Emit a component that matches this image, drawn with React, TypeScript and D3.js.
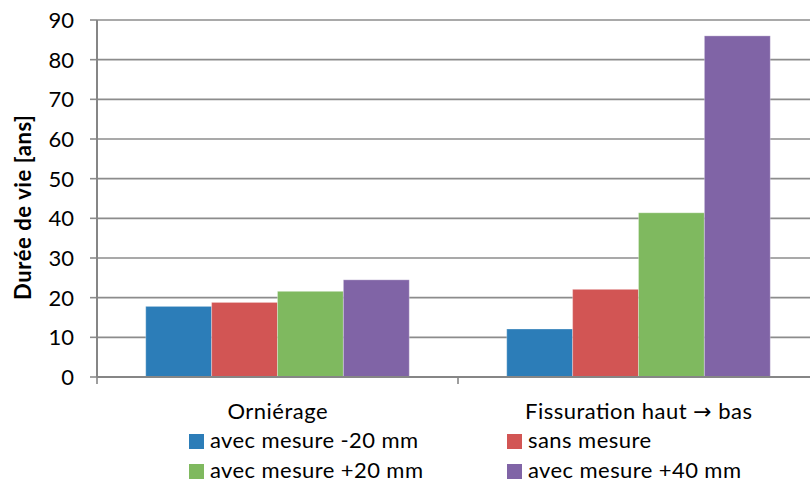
import React from "react";
import * as d3 from "d3";

const categories = ["Orniérage", "Fissuration haut \u2192 bas"];
const seriesNames = ["avec mesure -20 mm", "sans mesure", "avec mesure +20 mm", "avec mesure +40 mm"];
const seriesColors = ["#2C7DB8", "#D25554", "#7FB95F", "#8064A6"];
const valuesMinus20 = [17.8, 12.1];
const valuesSans = [18.8, 22.1];
const valuesPlus20 = [21.6, 41.4];
const valuesPlus40 = [24.5, 86.0];
const yTicks = [0, 10, 20, 30, 40, 50, 60, 70, 80, 90];
const yTitle = "Durée de vie [ans]";

const seriesValues = [valuesMinus20, valuesSans, valuesPlus20, valuesPlus40];

export default function App() {
  const W = 810, H = 483;
  const left = 97, right = 819, top = 20, bottom = 377;
  const font = "Lato, 'Open Sans', sans-serif";
  const x0 = d3.scaleBand<string>().domain(categories).range([left, right]).paddingInner(0).paddingOuter(0);
  const groupW = x0.bandwidth() * 0.73;
  const x1 = d3.scaleBand<string>().domain(seriesNames).range([0, groupW]).padding(0);
  const y = d3.scaleLinear().domain([0, 90]).range([bottom, top]);

  const legendPos = [
    { x: 189, y: 448 },
    { x: 507, y: 448 },
    { x: 189, y: 478 },
    { x: 507, y: 478 },
  ];
  const legendTextLen = [208, 123, 213, 213];
  const catTextLen = [100, 227];

  return (
    <svg width={W} height={H} style={{ position: "absolute", left: 0, top: 0, background: "#fff" }}>
      {yTicks.map((t) => (
        <g key={t}>
          {t > 0 && <line x1={left} x2={right} y1={y(t)} y2={y(t)} stroke="#8C8C8C" strokeWidth={1.6} />}
          <line x1={left - 7} x2={left} y1={y(t)} y2={y(t)} stroke="#8C8C8C" strokeWidth={1.6} />
          <text x={74} y={y(t)} dy="0.36em" textAnchor="end" fontFamily={font} fontSize={22} fill="#000">
            {t}
          </text>
        </g>
      ))}
      {categories.map((c, ci) => {
        const gx = (x0(c) as number) + (x0.bandwidth() - groupW) / 2;
        const cx = (x0(c) as number) + x0.bandwidth() / 2;
        const parts = c.split("\u2192");
        return (
          <g key={c}>
            {seriesNames.map((s, si) => {
              const v = seriesValues[si][ci];
              return (
                <rect
                  key={s}
                  x={gx + (x1(s) as number)}
                  y={y(v)}
                  width={x1.bandwidth()}
                  height={y(0) - y(v)}
                  fill={seriesColors[si]}
                  stroke="rgba(255,255,255,0.3)"
                  strokeWidth={1}
                />
              );
            })}
            <text
              x={cx - catTextLen[ci] / 2}
              y={419}
              textLength={catTextLen[ci]}
              lengthAdjust="spacing"
              fontFamily={font}
              fontSize={22}
              fill="#000"
            >
              {parts.length > 1 ? (
                <>
                  <tspan>{parts[0]}</tspan>
                  <tspan fontFamily="'DejaVu Sans', sans-serif" fontSize={22}>{"\u2192"}</tspan>
                  <tspan>{parts[1]}</tspan>
                </>
              ) : (
                c
              )}
            </text>
          </g>
        );
      })}
      <line x1={left} x2={left} y1={top} y2={bottom} stroke="#868686" strokeWidth={2} />
      <line x1={left} x2={right} y1={bottom} y2={bottom} stroke="#868686" strokeWidth={2} />
      {[...categories.map((c) => x0(c) as number), right].map((tx, i) => (
        <line key={i} x1={tx} x2={tx} y1={bottom} y2={bottom + 7} stroke="#868686" strokeWidth={1.6} />
      ))}
      <text
        transform={`translate(31, ${207.5 + 92.5}) rotate(-90)`}
        textLength={185}
        lengthAdjust="spacing"
        fontFamily={font}
        fontSize={22}
        fontWeight="bold"
        fill="#000"
      >
        {yTitle}
      </text>
      {seriesNames.map((s, i) => (
        <g key={s} transform={`translate(${legendPos[i].x}, ${legendPos[i].y})`}>
          <rect x={0} y={-14} width={15} height={15} fill={seriesColors[i]} />
          <text x={21} y={0} textLength={legendTextLen[i]} lengthAdjust="spacing" fontFamily={font} fontSize={22} fill="#000">
            {s}
          </text>
        </g>
      ))}
    </svg>
  );
}
